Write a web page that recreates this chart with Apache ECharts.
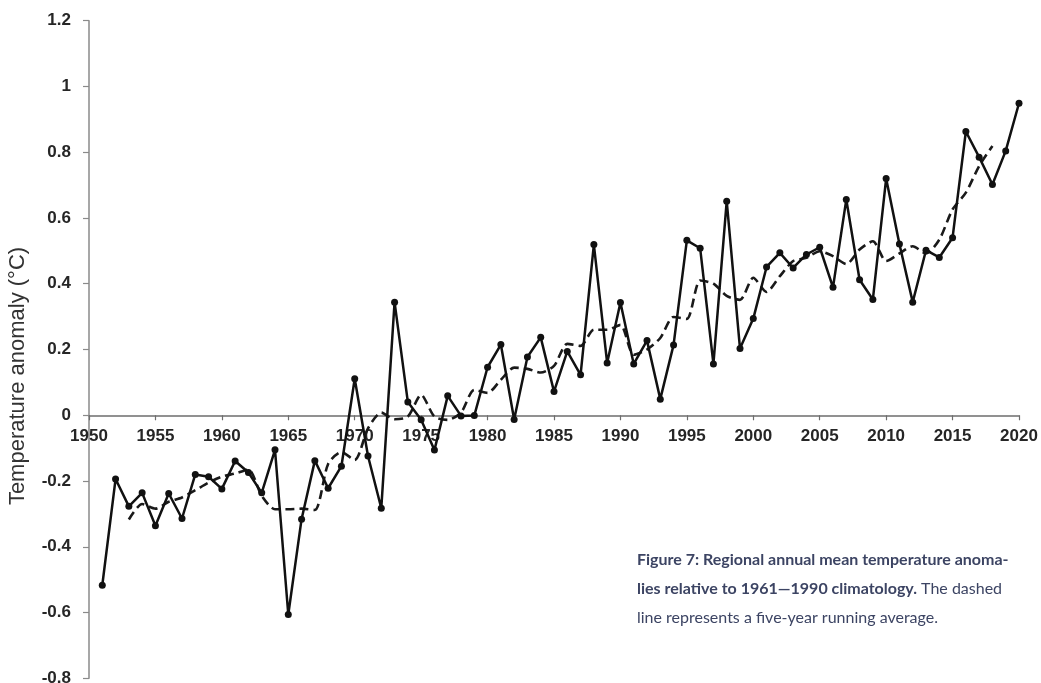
<!DOCTYPE html>
<html>
<head>
<meta charset="utf-8">
<script src="https://cdn.jsdelivr.net/npm/echarts@6/dist/echarts.min.js"></script>
<style>
html,body{margin:0;padding:0;background:#fff;}
#chart{width:1041px;height:683px;}
</style>
</head>
<body>
<div id="chart"></div>
<script>
// Annual anomaly (°C), 1951-2020
const annualYears = [1951,1952,1953,1954,1955,1956,1957,1958,1959,1960,1961,1962,1963,1964,1965,1966,1967,1968,1969,1970,1971,1972,1973,1974,1975,1976,1977,1978,1979,1980,1981,1982,1983,1984,1985,1986,1987,1988,1989,1990,1991,1992,1993,1994,1995,1996,1997,1998,1999,2000,2001,2002,2003,2004,2005,2006,2007,2008,2009,2010,2011,2012,2013,2014,2015,2016,2017,2018,2019,2020];
const annualValues = [-0.517,-0.194,-0.277,-0.236,-0.336,-0.238,-0.314,-0.180,-0.187,-0.224,-0.139,-0.174,-0.236,-0.105,-0.606,-0.316,-0.138,-0.222,-0.155,0.111,-0.124,-0.283,0.344,0.040,-0.014,-0.106,0.059,-0.002,-0.001,0.146,0.215,-0.013,0.177,0.237,0.072,0.194,0.123,0.519,0.159,0.343,0.156,0.227,0.049,0.214,0.532,0.508,0.156,0.651,0.203,0.294,0.451,0.494,0.448,0.489,0.511,0.389,0.656,0.412,0.352,0.720,0.521,0.344,0.502,0.480,0.540,0.863,0.785,0.702,0.804,0.949];
// Five-year running average, 1953-2018
const runYears = [1953,1954,1955,1956,1957,1958,1959,1960,1961,1962,1963,1964,1965,1966,1967,1968,1969,1970,1971,1972,1973,1974,1975,1976,1977,1978,1979,1980,1981,1982,1983,1984,1985,1986,1987,1988,1989,1990,1991,1992,1993,1994,1995,1996,1997,1998,1999,2000,2001,2002,2003,2004,2005,2006,2007,2008,2009,2010,2011,2012,2013,2014,2015,2016,2017,2018];
const runValues = [-0.317,-0.270,-0.284,-0.263,-0.250,-0.228,-0.205,-0.187,-0.177,-0.165,-0.245,-0.286,-0.286,-0.284,-0.288,-0.148,-0.112,-0.136,-0.040,0.008,-0.012,-0.004,0.062,-0.004,-0.014,0.008,0.077,0.068,0.108,0.145,0.141,0.130,0.150,0.217,0.211,0.260,0.260,0.275,0.184,0.200,0.235,0.299,0.293,0.410,0.400,0.363,0.351,0.418,0.375,0.423,0.469,0.479,0.499,0.484,0.460,0.504,0.529,0.469,0.492,0.514,0.492,0.534,0.626,0.677,0.758,0.819];
// Axis ticks
const yTicks = {min:-0.8, max:1.2, step:0.2};
const xTicks = {min:1950, max:2020, step:5};
const yTitle = 'Temperature anomaly (°C)';
const captionBold1 = 'Figure 7: Regional annual mean temperature anoma-';
const captionBold2 = 'lies relative to 1961\u20141990 climatology.';
const captionReg2 = ' The dashed';
const captionReg3 = 'line represents a five-year running average.';

const chart = echarts.init(document.getElementById('chart'), null, {renderer:'canvas'});
const tickFont = {fontFamily:'Liberation Sans', fontWeight:'bold', fontSize:17, color:'#262626'};
const capColor = '#3c4463';
const gridTop = 20.7, gridBottom = 4.7;
const gridH = 683 - gridTop - gridBottom;
const zeroFromBottom = gridH * (0 - yTicks.min) / (yTicks.max - yTicks.min);
chart.setOption({
  animation:false,
  grid:{left:89, right:22, top:gridTop, bottom:gridBottom, containLabel:false, outerBoundsMode:'none'},
  xAxis:{
    type:'value', min:xTicks.min, max:xTicks.max, interval:xTicks.step,
    position:'bottom', offset:-zeroFromBottom,
    axisLine:{onZero:false, lineStyle:{color:'#6e6e6e', width:1.5}},
    axisTick:{show:true, inside:false, length:5, lineStyle:{color:'#6e6e6e', width:1.2}},
    axisLabel:Object.assign({margin:13, formatter:v=>String(v)}, tickFont),
    splitLine:{show:false}
  },
  yAxis:{
    type:'value', min:yTicks.min, max:yTicks.max, interval:yTicks.step,
    axisLine:{show:true, onZero:false, lineStyle:{color:'#8a8a8a', width:1.5}},
    axisTick:{show:true, length:6, lineStyle:{color:'#8a8a8a', width:1.2}},
    axisLabel:Object.assign({margin:18, formatter:v=>String(Math.round(v*10)/10)}, tickFont),
    splitLine:{show:false}
  },
  series:[
    {
      type:'line', data:runYears.map((y,i)=>[y,runValues[i]]),
      symbol:'none', smooth:0.25,
      lineStyle:{color:'#1a1a1a', width:2.6, type:[9,5]},
      z:2
    },
    {
      type:'line', data:annualYears.map((y,i)=>[y,annualValues[i]]),
      symbol:'circle', symbolSize:7,
      itemStyle:{color:'#111'},
      lineStyle:{color:'#111', width:2.5},
      z:3
    }
  ],
  graphic:[
    {
      type:'text', x:18, y:376, rotation:Math.PI/2,
      style:{text:yTitle, fontFamily:'Liberation Sans', fontSize:22, fill:'#333', align:'center', verticalAlign:'middle'}
    },
    {
      type:'text', left:637, top:545,
      style:{
        text:'{b|'+captionBold1+'}\n{b|'+captionBold2+'}{r|'+captionReg2+'}\n{r|'+captionReg3+'}',
        lineHeight:29,
        rich:{
          b:{fontFamily:'Lato', fontWeight:'bold', fontSize:16, fill:capColor, lineHeight:29},
          r:{fontFamily:'Lato', fontWeight:'normal', fontSize:16, fill:capColor, lineHeight:29}
        }
      }
    }
  ]
});
</script>
</body>
</html>
